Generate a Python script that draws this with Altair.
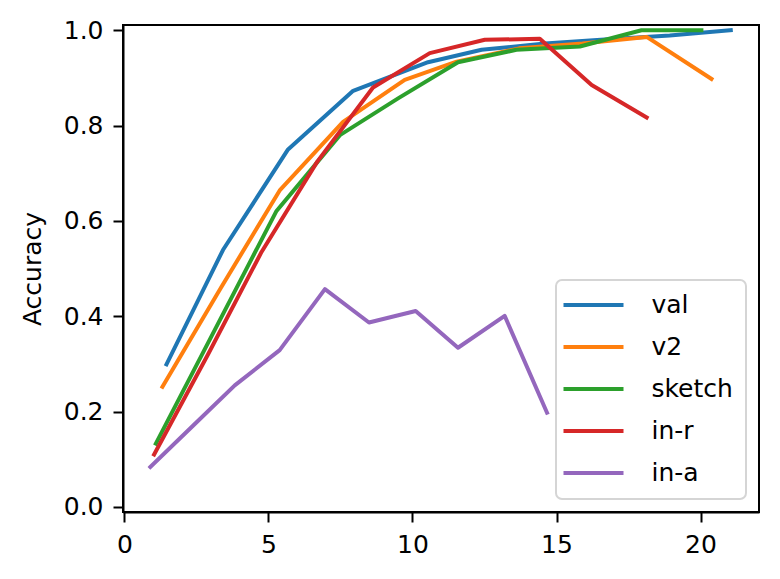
import altair as alt
import pandas as pd

series_names = ["val", "v2", "sketch", "in-r", "in-a"]
series_colors = ["#1f77b4", "#ff7f0e", "#2ca02c", "#d62728", "#9467bd"]

val_x = [1.46, 3.42, 5.68, 7.94, 10.54, 12.40, 14.6, 16.8, 18.93, 21.05]
val_y = [0.299, 0.539, 0.750, 0.873, 0.933, 0.959, 0.972, 0.981, 0.989, 1.0]

v2_x = [1.32, 3.35, 5.39, 7.59, 9.73, 11.53, 13.7, 15.9, 18.13, 20.38]
v2_y = [0.252, 0.46, 0.664, 0.808, 0.896, 0.934, 0.962, 0.972, 0.986, 0.898]

sketch_x = [1.09, 3.2, 5.28, 7.48, 9.5, 11.58, 13.61, 15.81, 17.95, 20.03]
sketch_y = [0.133, 0.379, 0.621, 0.780, 0.857, 0.933, 0.959, 0.966, 1.0, 1.0]

inr_x = [1.03, 2.9, 4.76, 6.7, 8.63, 10.60, 12.51, 14.42, 16.22, 18.13]
inr_y = [0.110, 0.32, 0.535, 0.725, 0.880, 0.952, 0.980, 0.982, 0.885, 0.817]

ina_x = [0.90, 2.37, 3.83, 5.39, 6.96, 8.49, 10.11, 11.58, 13.20, 14.67]
ina_y = [0.084, 0.170, 0.255, 0.329, 0.457, 0.387, 0.411, 0.334, 0.401, 0.198]

x_ticks = [0, 5, 10, 15, 20]
y_ticks = [0.0, 0.2, 0.4, 0.6, 0.8, 1.0]

rows = []
for name, xs, ys in zip(series_names,
                        [val_x, v2_x, sketch_x, inr_x, ina_x],
                        [val_y, v2_y, sketch_y, inr_y, ina_y]):
    for xv, yv in zip(xs, ys):
        rows.append({"series": name, "step": xv, "acc": yv})
df = pd.DataFrame(rows)

FONT = "DejaVu Sans"

chart = alt.Chart(df).mark_line(
    strokeWidth=4, strokeCap="square", strokeJoin="round"
).encode(
    x=alt.X("step:Q",
            scale=alt.Scale(domain=[-0.05, 22.03], nice=False, zero=False),
            axis=alt.Axis(values=x_ticks, title=None, format="d")),
    y=alt.Y("acc:Q",
            scale=alt.Scale(domain=[-0.0105, 1.011], nice=False, zero=False),
            axis=alt.Axis(values=y_ticks, title="Accuracy", format=".1f")),
    color=alt.Color("series:N",
                    scale=alt.Scale(domain=series_names, range=series_colors),
                    legend=alt.Legend(
                        title=None, orient="bottom-right", offset=13,
                        symbolType="M-3.5,0H8.5", symbolSize=100,
                        symbolStrokeWidth=4, labelFontSize=25, labelFont=FONT,
                        labelColor="black", labelOffset=58, rowPadding=16,
                        padding=12.5, strokeColor="#d5d5d5", fillColor="white",
                        cornerRadius=6, labelLimit=0)),
    detail="series:N",
).properties(
    width=636, height=487,
    autosize=alt.AutoSizeParams(type="none"),
    padding={"left": 115, "top": 17, "right": 4, "bottom": 46},
).configure_view(
    stroke="black", strokeWidth=2
).configure_axis(
    domainColor="black", domainWidth=2, tickColor="black", tickWidth=2,
    tickSize=10, labelFontSize=25, labelFont=FONT, labelColor="black",
    labelPadding=10, titleFont=FONT, titleFontSize=25, titleFontWeight="normal",
    titleColor="black", titlePadding=18, grid=False, labelFlush=False,
).configure_legend(
    strokeWidth=2
)

chart.save("out.html", embed_options={"renderer": "svg", "actions": False})
